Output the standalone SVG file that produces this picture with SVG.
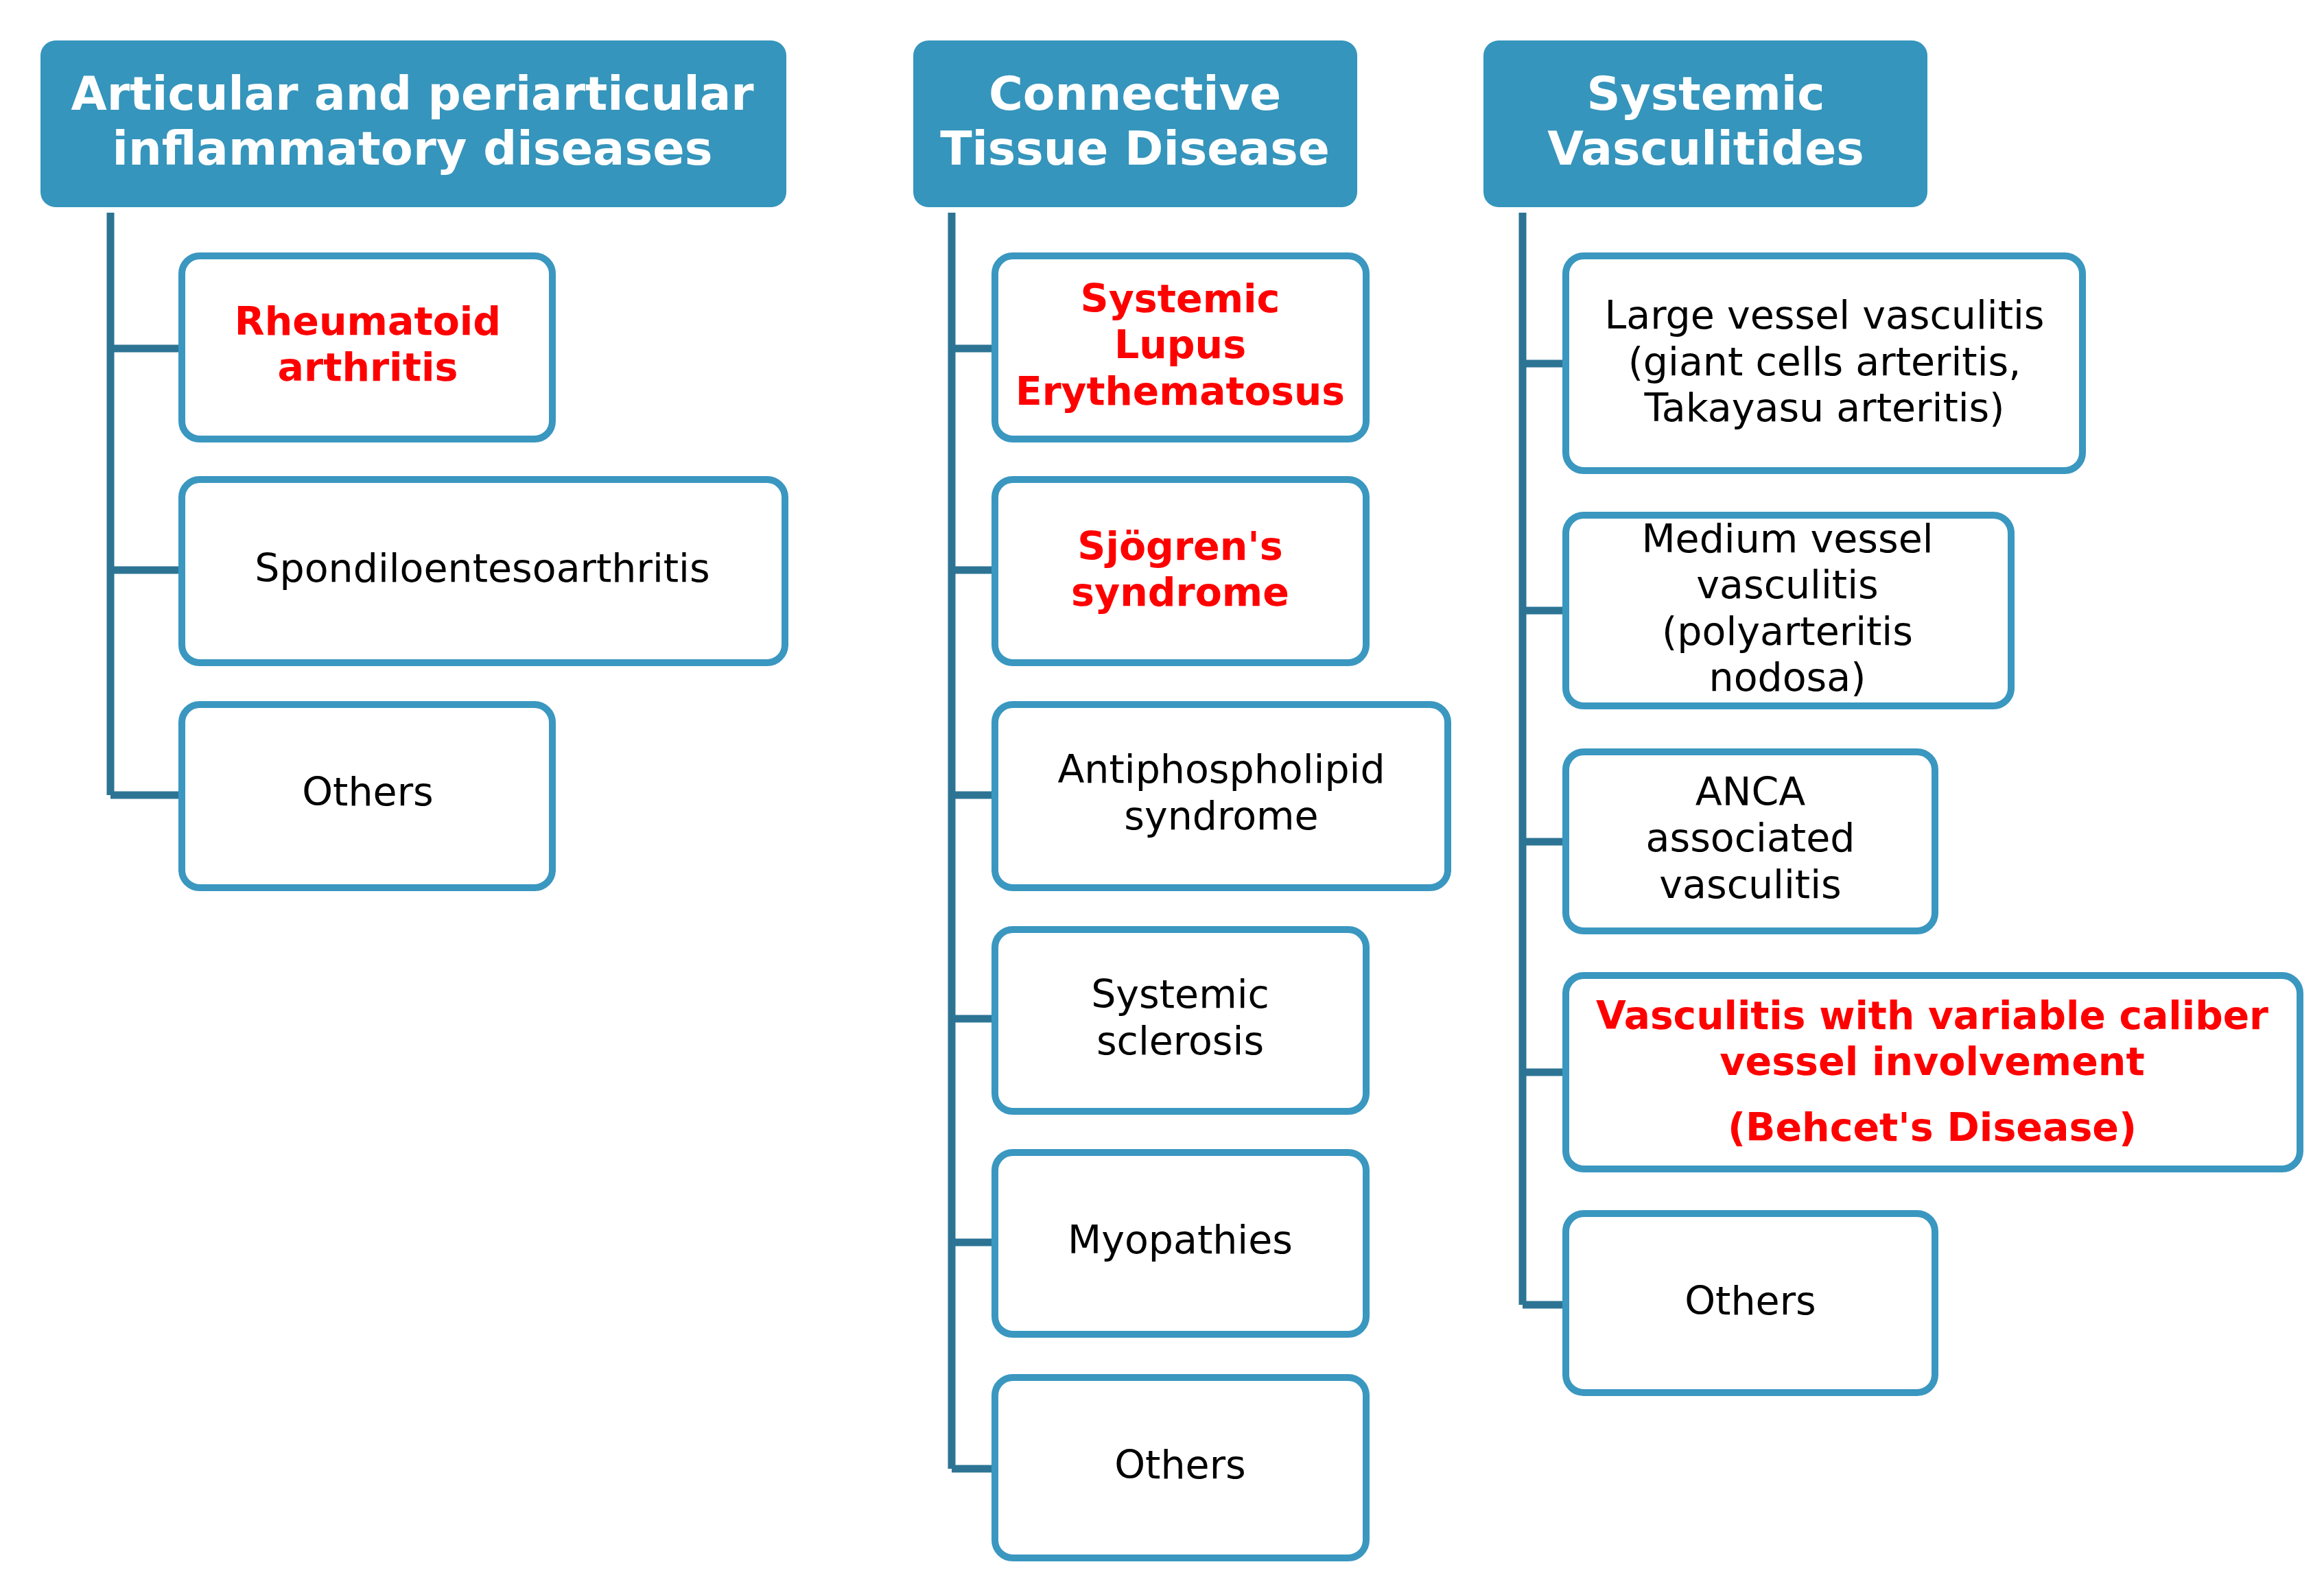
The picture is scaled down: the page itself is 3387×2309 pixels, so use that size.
<svg xmlns="http://www.w3.org/2000/svg" width="3387" height="2309" viewBox="0 0 3387 2309">
<style>
.h{fill:#3595bc}
.ht{font-family:"DejaVu Sans",sans-serif;font-weight:bold;font-size:68px;fill:#fff;text-anchor:middle}
.b{fill:#fff;stroke:#3a97c0;stroke-width:10}
.t{font-family:"DejaVu Sans",sans-serif;font-size:57px;fill:#000;text-anchor:middle}
.r{font-weight:bold;fill:#ff0000}
.c{stroke:#2d7494;stroke-width:11;fill:none}
</style>
<rect width="3387" height="2309" fill="#fff"/>
<g id="connectors">
<path class="c" d="M161 310V1159M161 508H265M161 831H265M161 1159H265"/>
<path class="c" d="M1387 310V2141M1387 508H1450M1387 831H1450M1387 1159H1450M1387 1485H1450M1387 1811H1450M1387 2141H1450"/>
<path class="c" d="M2219 310V1902M2219 530H2282M2219 890H2282M2219 1227H2282M2219 1563H2282M2219 1902H2282"/>
</g>
<g id="h1"><rect class="h" x="59" y="59" width="1087" height="243" rx="22"/><text class="ht" x="601" y="160" textLength="995" lengthAdjust="spacingAndGlyphs">Articular and periarticular</text><text class="ht" x="601" y="240" textLength="875" lengthAdjust="spacingAndGlyphs">inflammatory diseases</text></g>
<g id="h2"><rect class="h" x="1331" y="59" width="647" height="243" rx="22"/><text class="ht" x="1654" y="160">Connective</text><text class="ht" x="1654" y="240">Tissue Disease</text></g>
<g id="h3"><rect class="h" x="2162" y="59" width="647" height="243" rx="22"/><text class="ht" x="2486" y="160">Systemic</text><text class="ht" x="2486" y="240">Vasculitides</text></g>
<g id="ra"><rect class="b" x="265" y="373" width="540" height="267" rx="26"/><text class="t r" x="536" y="488">Rheumatoid</text><text class="t r" x="536" y="555">arthritis</text></g>
<g id="spa"><rect class="b" x="265" y="699" width="879" height="267" rx="26"/><text class="t" x="703" y="848">Spondiloentesoarthritis</text></g>
<g id="oth1"><rect class="b" x="265" y="1027" width="540" height="267" rx="26"/><text class="t" x="536" y="1174">Others</text></g>
<g id="sle"><rect class="b" x="1450" y="373" width="541" height="267" rx="26"/><text class="t r" x="1720" y="455">Systemic</text><text class="t r" x="1720" y="522">Lupus</text><text class="t r" x="1720" y="590" textLength="480" lengthAdjust="spacingAndGlyphs">Erythematosus</text></g>
<g id="sjo"><rect class="b" x="1450" y="699" width="541" height="267" rx="26"/><text class="t r" x="1720" y="816">Sjögren's</text><text class="t r" x="1720" y="883">syndrome</text></g>
<g id="aps"><rect class="b" x="1450" y="1027" width="660" height="267" rx="26"/><text class="t" x="1780" y="1141">Antiphospholipid</text><text class="t" x="1780" y="1209">syndrome</text></g>
<g id="ssc"><rect class="b" x="1450" y="1355" width="541" height="265" rx="26"/><text class="t" x="1720" y="1469">Systemic</text><text class="t" x="1720" y="1537">sclerosis</text></g>
<g id="myo"><rect class="b" x="1450" y="1680" width="541" height="265" rx="26"/><text class="t" x="1720" y="1827">Myopathies</text></g>
<g id="oth2"><rect class="b" x="1450" y="2008" width="541" height="263" rx="26"/><text class="t" x="1720" y="2155">Others</text></g>
<g id="lvv"><rect class="b" x="2282" y="373" width="753" height="313" rx="26"/><text class="t" x="2659" y="479">Large vessel vasculitis</text><text class="t" x="2659" y="547">(giant cells arteritis,</text><text class="t" x="2659" y="614">Takayasu arteritis)</text></g>
<g id="mvv"><rect class="b" x="2282" y="751" width="649" height="278" rx="26"/><text class="t" x="2605" y="805">Medium vessel</text><text class="t" x="2605" y="872">vasculitis</text><text class="t" x="2605" y="940">(polyarteritis</text><text class="t" x="2605" y="1007">nodosa)</text></g>
<g id="anca"><rect class="b" x="2282" y="1096" width="538" height="261" rx="26"/><text class="t" x="2551" y="1174">ANCA</text><text class="t" x="2551" y="1241">associated</text><text class="t" x="2551" y="1309">vasculitis</text></g>
<g id="vvv"><rect class="b" x="2282" y="1422" width="1070" height="282" rx="26"/><text class="t r" x="2816" y="1500" textLength="980" lengthAdjust="spacingAndGlyphs">Vasculitis with variable caliber</text><text class="t r" x="2816" y="1567">vessel involvement</text><text class="t r" x="2816" y="1663">(Behcet's Disease)</text></g>
<g id="oth3"><rect class="b" x="2282" y="1769" width="538" height="261" rx="26"/><text class="t" x="2551" y="1916">Others</text></g>
</svg>
